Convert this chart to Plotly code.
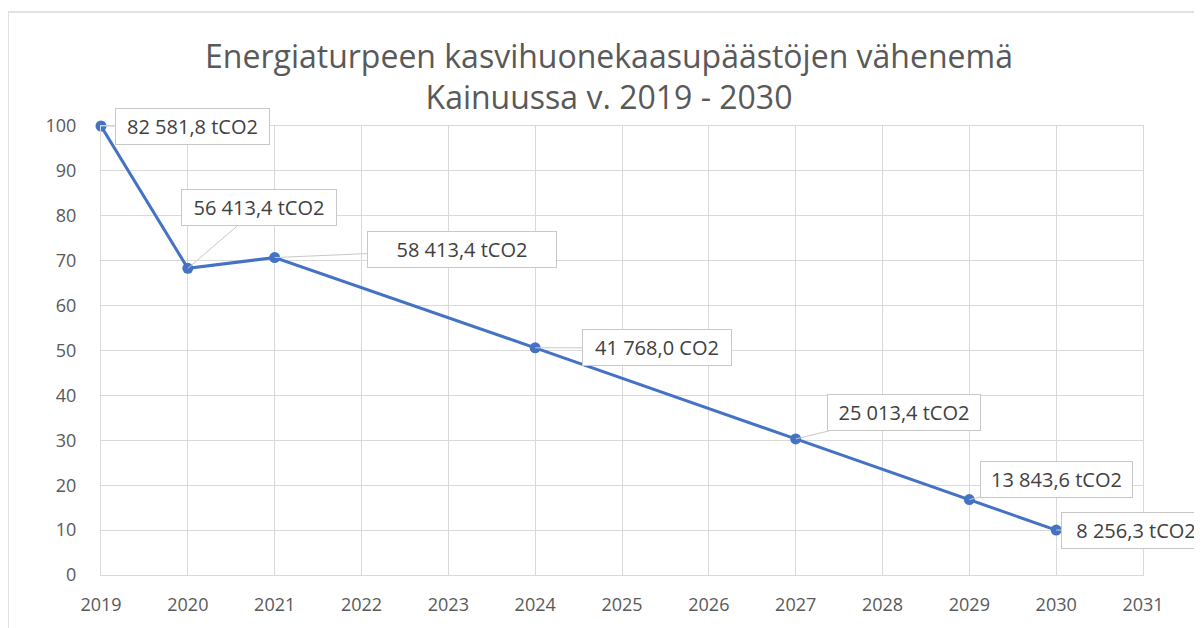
import plotly.graph_objects as go

# ---- data ----
years = [2019, 2020, 2021, 2024, 2027, 2029, 2030]
index_values = [100, 68.3, 70.7, 50.6, 30.3, 16.8, 10.0]
labels = ["82 581,8 tCO2", "56 413,4 tCO2", "58 413,4 tCO2", "41 768,0 CO2",
          "25 013,4 tCO2", "13 843,6 tCO2", "8 256,3 tCO2"]
x_ticks = list(range(2019, 2032))
y_ticks = list(range(0, 101, 10))
title_lines = ["Energiaturpeen kasvihuonekaasupäästöjen vähenemä", "Kainuussa v. 2019 - 2030"]

# label placement (pixel offsets of label box centre from the point) and box widths
offsets = [(91, 0), (71, -61), (187, -8), (122, 0), (108, -26), (87, -20), (80, 0)]
box_widths = [145, 146, 180, 140, 144, 143, 140]

FONT = "Open Sans"
GRID = "#d9d9d9"
TXT = "#595959"

fig = go.Figure()
fig.add_trace(go.Scatter(
    x=years, y=index_values, mode="lines+markers",
    line=dict(color="#4472C4", width=3),
    marker=dict(color="#4472C4", size=11),
    cliponaxis=False,
    hoverinfo="skip", showlegend=False,
))

for xv, yv, txt, (ax, ay), w in zip(years, index_values, labels, offsets, box_widths):
    fig.add_annotation(
        x=xv, y=yv, text=txt, showarrow=True, arrowhead=0, arrowwidth=1,
        arrowcolor="#c8c8c8", ax=ax, ay=ay, axref="pixel", ayref="pixel",
        bgcolor="white", bordercolor="#c8c8c8", borderwidth=1, borderpad=4,
        width=w, font=dict(family=FONT, size=20, color="#404040"),
    )

fig.update_layout(
    width=1202, height=628,
    margin=dict(l=93, r=67, t=118, b=61),
    paper_bgcolor="white", plot_bgcolor="white",
    title=dict(text="<br>".join(title_lines), x=0.5, xanchor="center",
               y=0.905, yanchor="top",
               font=dict(family=FONT, size=32, color=TXT)),
    xaxis=dict(range=[2019, 2031], tickvals=x_ticks, showgrid=True, gridcolor=GRID,
               gridwidth=1, zeroline=False, showline=True, linecolor=GRID, mirror=True,
               ticks="outside", ticklen=13, tickcolor="rgba(0,0,0,0)",
               tickfont=dict(family=FONT, size=18, color=TXT)),
    yaxis=dict(range=[0, 100], tickvals=y_ticks, showgrid=True, gridcolor=GRID,
               gridwidth=1, zeroline=False, showline=True, linecolor=GRID, mirror=True,
               ticks="outside", ticklen=20, tickcolor="rgba(0,0,0,0)",
               tickfont=dict(family=FONT, size=18, color=TXT)),
    shapes=[dict(type="rect", xref="paper", yref="paper",
                 x0=(0 - 93) / 1042, x1=1.2, y0=-0.3, y1=1 + (118 - 4) / 449,
                 line=dict(color="#d9d9d9", width=1.5), layer="below")],
)

fig.write_html("out.html")
